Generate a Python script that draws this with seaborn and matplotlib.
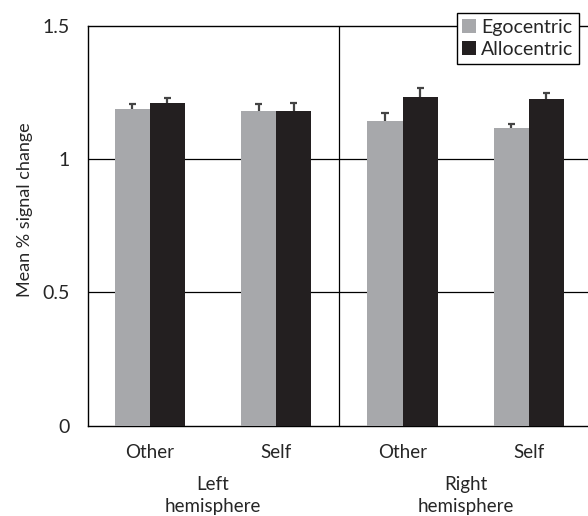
import seaborn as sns
import matplotlib.pyplot as plt
import pandas as pd

# values
conditions = ['Left Other', 'Left Self', 'Right Other', 'Right Self']
tick_labels = ['Other', 'Self', 'Other', 'Self']
group_labels = ['Left\nhemisphere', 'Right\nhemisphere']
series = ['Egocentric', 'Allocentric']
egocentric = [1.187, 1.180, 1.143, 1.116]
allocentric = [1.210, 1.180, 1.232, 1.225]
ego_err = [0.020, 0.027, 0.030, 0.016]
allo_err = [0.020, 0.030, 0.035, 0.022]
y_ticks = [0, 0.5, 1, 1.5]
y_tick_labels = ['0', '0.5', '1', '1.5']

df = pd.DataFrame({
    'condition': conditions * 2,
    'series': [series[0]] * 4 + [series[1]] * 4,
    'value': egocentric + allocentric,
})

sns.set_style('white')
plt.rcParams['font.family'] = ['Lato', 'DejaVu Sans']

fig = plt.figure(figsize=(5.88, 5.16), dpi=100)
ax = fig.add_axes([88 / 588, 1 - 425.7 / 516, 1 - 88 / 588, 400 / 516])

palette = {'Egocentric': '#a7a8ab', 'Allocentric': '#231f20'}
sns.barplot(data=df, x='condition', y='value', hue='series', order=conditions,
            hue_order=series, palette=palette, width=0.555, gap=0,
            errorbar=None, saturation=1, linewidth=0, edgecolor='none',
            ax=ax, zorder=3)

# error bars, upward only, placed on the bars seaborn drew
errs = ego_err + allo_err
cap = 0.028
for patch, err in zip(ax.patches, errs):
    xc = patch.get_x() + patch.get_width() / 2
    top = patch.get_height()
    ax.vlines(xc, top, top + err, color='#444444', lw=1.6, zorder=4)
    ax.hlines(top + err, xc - cap, xc + cap, color='#444444', lw=1.6, zorder=4)

ax.axhline(0.5, color='black', lw=0.9, zorder=1)
ax.axhline(1.0, color='black', lw=0.9, zorder=1)
ax.axvline(1.5, color='black', lw=0.9, zorder=1)

ax.set_xlim(-0.49, 3.468)
ax.set_ylim(0, 1.5)
ax.set_yticks(y_ticks)
ax.set_yticklabels(y_tick_labels, fontsize=14)
ax.set_xticks(range(4))
ax.set_xticklabels(tick_labels, fontsize=13.5)
ax.tick_params(axis='x', length=0, pad=13)
ax.tick_params(axis='y', length=7, width=1, direction='out', color='black', pad=6)
ax.set_xlabel('')
ax.set_ylabel('Mean % signal change', fontsize=13)
ax.yaxis.set_label_coords(-0.11, 0.54)

for side in ['left', 'bottom', 'top']:
    ax.spines[side].set_color('black')
    ax.spines[side].set_linewidth(1)
ax.spines['right'].set_visible(False)

for i, lab in enumerate(group_labels):
    ax.text(2 * i + 0.5, -0.125, lab, transform=ax.get_xaxis_transform(),
            ha='center', va='top', fontsize=13.5, linespacing=1.4)

leg = ax.legend(loc='upper right', bbox_to_anchor=(0.982, 1.0325), fontsize=14,
                frameon=True, fancybox=False, edgecolor='black',
                handlelength=0.7, handleheight=0.7, handletextpad=0.25,
                borderpad=0.3, labelspacing=0.28, borderaxespad=0)
leg.get_frame().set_linewidth(1)
leg.get_frame().set_alpha(1)
leg.set_zorder(10)

fig.savefig('out.png', dpi=100)
